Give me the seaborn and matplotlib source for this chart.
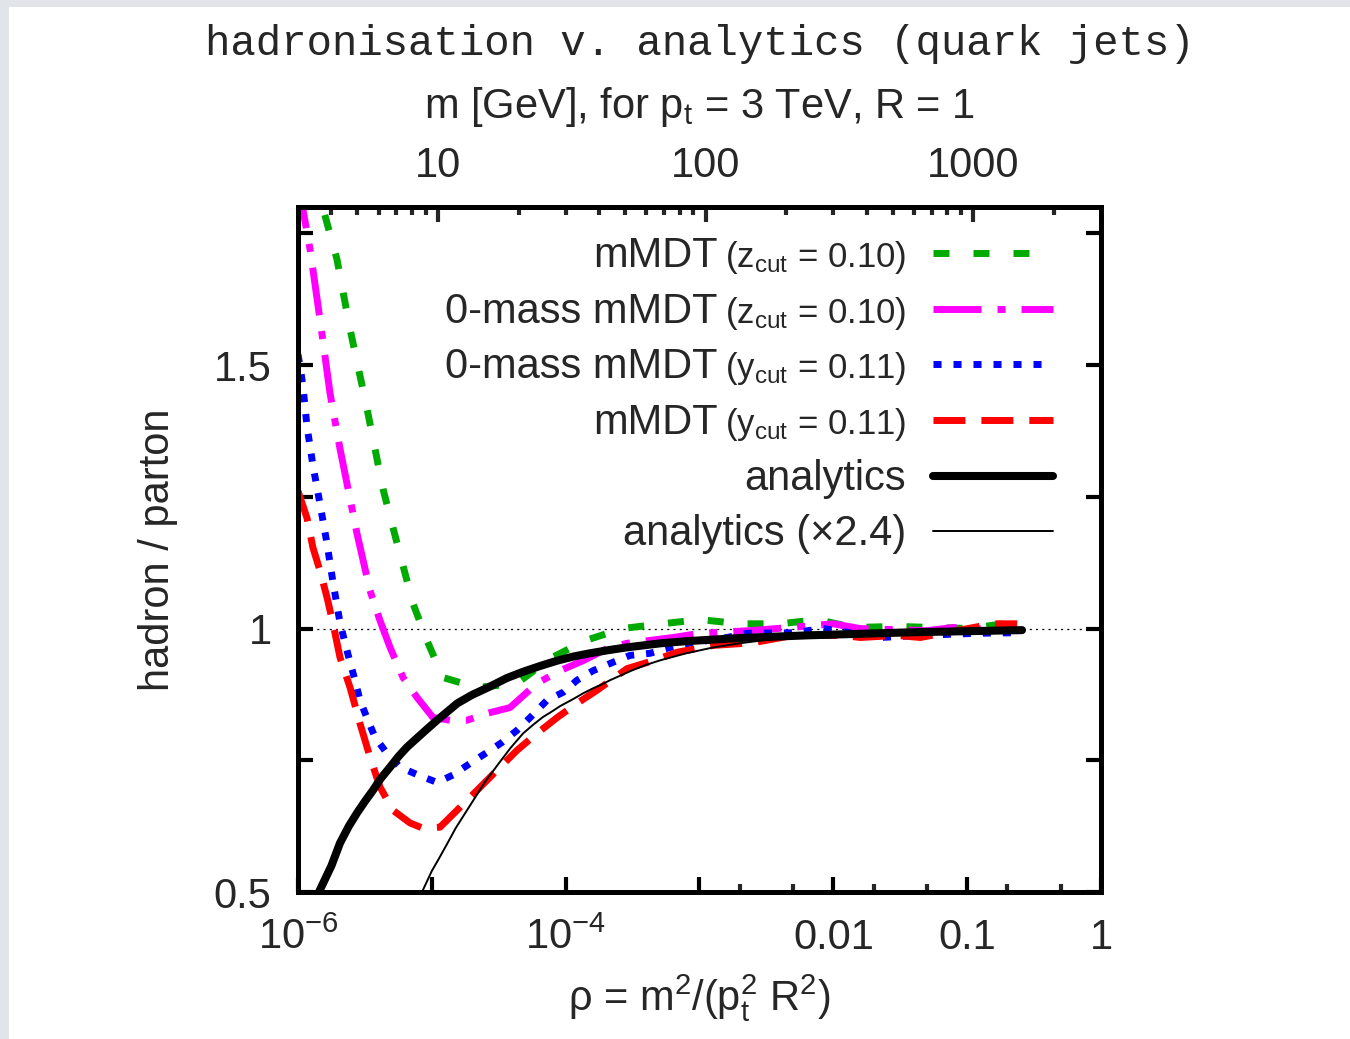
import numpy as np
import pandas as pd
import seaborn as sns
import matplotlib
matplotlib.use("Agg")
import matplotlib.pyplot as plt
from matplotlib.patches import Rectangle
from matplotlib.ticker import NullFormatter
from matplotlib.lines import Line2D

# ---------------- data (log10 rho, hadron/parton) ----------------
green_logrho = [-5.84, -5.813, -5.709, -5.611, -5.484, -5.365, -5.29, -5.14, -5.036, -4.916,
                -4.662, -4.363, -4.117, -3.855, -3.578, -3.28, -2.996, -2.697, -2.398,
                -2.114, -1.852, -1.523, -0.978, -0.679]
green_ratio = [1.86, 1.797, 1.701, 1.568, 1.417, 1.265, 1.191, 1.047, 0.977, 0.907,
               0.888, 0.896, 0.943, 0.977, 1.0, 1.009, 1.017, 1.009, 1.009,
               1.017, 1.002, 1.004, 1.0, 1.011]

magenta_logrho = [-5.99, -5.963, -5.91, -5.836, -5.761, -5.686, -5.626, -5.559, -5.462, -5.387,
                  -5.312, -5.215, -5.11, -4.991, -4.864, -4.737, -4.587, -4.416, -4.214,
                  -4.042, -3.87, -3.69, -3.541, -3.197, -2.996, -2.622, -2.323, -2.0,
                  -1.8, -1.3, -1.105, -0.626]
magenta_ratio = [1.85, 1.795, 1.72, 1.587, 1.447, 1.341, 1.265, 1.18, 1.072, 1.015,
                 0.964, 0.907, 0.869, 0.831, 0.826, 0.826, 0.839, 0.85, 0.896,
                 0.92, 0.939, 0.962, 0.972, 0.983, 0.991, 0.996, 1.002, 1.009,
                 1.0, 0.996, 1.002, 0.996]

blue_logrho = [-6.0, -5.985, -5.963, -5.933, -5.888, -5.836, -5.783, -5.738, -5.686, -5.649,
               -5.611, -5.574, -5.537, -5.484, -5.425, -5.335, -5.238, -5.103, -4.961,
               -4.842, -4.715, -4.587, -4.475, -4.363, -4.266, -4.139, -4.019, -3.915,
               -3.795, -3.646, -3.519, -3.369, -3.22, -3.07, -2.794, -2.644, -2.3,
               -2.076, -1.65, -1.351, -0.925, -0.656]
blue_ratio = [1.52, 1.498, 1.46, 1.384, 1.309, 1.237, 1.161, 1.087, 1.011, 0.973,
              0.936, 0.902, 0.864, 0.83, 0.794, 0.763, 0.737, 0.722, 0.708,
              0.722, 0.744, 0.765, 0.784, 0.807, 0.831, 0.864, 0.879, 0.902,
              0.92, 0.936, 0.949, 0.953, 0.964, 0.972, 0.983, 0.991, 0.992,
              1.0, 0.983, 0.987, 0.991, 0.992]

red_logrho = [-6.0, -5.933, -5.888, -5.836, -5.783, -5.738, -5.686, -5.611, -5.537, -5.462,
              -5.387, -5.29, -5.163, -5.066, -4.939, -4.812, -4.662, -4.513, -4.363,
              -4.214, -4.064, -3.915, -3.765, -3.541, -3.347, -3.167, -2.898, -2.6,
              -2.3, -1.927, -1.8, -1.523, -1.351, -1.18, -0.806, -0.626]
red_ratio = [1.261, 1.21, 1.153, 1.11, 1.059, 1.009, 0.945, 0.888, 0.82, 0.756,
             0.699, 0.655, 0.631, 0.621, 0.623, 0.655, 0.693, 0.731, 0.769,
             0.801, 0.831, 0.858, 0.883, 0.924, 0.939, 0.955, 0.968, 0.973,
             0.987, 0.987, 0.983, 0.987, 0.983, 0.991, 1.009, 1.009]

analytic_logrho = [-5.86, -5.836, -5.75, -5.686, -5.62, -5.559, -5.5, -5.44, -5.38, -5.312,
                   -5.25, -5.185, -5.12, -5.05, -4.961, -4.88, -4.81, -4.7, -4.565, -4.44,
                   -4.318, -4.19, -4.064, -3.94, -3.82, -3.68, -3.55, -3.42, -3.29, -3.1,
                   -2.9, -2.7, -2.5, -2.2, -1.8, -1.4, -1.0, -0.59]
analytic_ratio = [0.49, 0.504, 0.55, 0.593, 0.625, 0.65, 0.672, 0.693, 0.716, 0.737,
                  0.757, 0.775, 0.79, 0.806, 0.826, 0.843, 0.858, 0.874, 0.89, 0.906,
                  0.918, 0.929, 0.939, 0.947, 0.953, 0.959, 0.964, 0.968, 0.972, 0.976,
                  0.979, 0.982, 0.984, 0.987, 0.99, 0.993, 0.995, 0.997]

analytic24_logrho = [-5.10, -5.066, -5.0, -4.95, -4.88, -4.82, -4.75, -4.69, -4.6, -4.5,
                     -4.41, -4.318, -4.24, -4.17, -4.1, -4.04, -3.945, -3.87, -3.8, -3.73,
                     -3.668, -3.58, -3.5, -3.4, -3.29, -3.1, -2.9, -2.7, -2.547, -2.35,
                     -2.2, -1.95, -1.7, -1.5, -1.0, -0.59]
analytic24_ratio = [0.49, 0.504, 0.54, 0.562, 0.594, 0.622, 0.65, 0.674, 0.71, 0.744,
                    0.774, 0.801, 0.818, 0.832, 0.843, 0.853, 0.866, 0.877, 0.886, 0.894,
                    0.902, 0.912, 0.921, 0.931, 0.94, 0.953, 0.964, 0.972, 0.977, 0.982,
                    0.985, 0.988, 0.991, 0.992, 0.995, 0.997]

series_names = ["mMDT", "0-mass mMDT", "0-mass mMDT", "mMDT", "analytics", "analytics (\u00d72.4)"]
series_params = ["(z$_\\mathregular{cut}$ = 0.10)", "(z$_\\mathregular{cut}$ = 0.10)",
                 "(y$_\\mathregular{cut}$ = 0.11)", "(y$_\\mathregular{cut}$ = 0.11)", "", ""]

x_ticks = [1e-6, 1e-5, 1e-4, 1e-3, 1e-2, 1e-1, 1]
x_ticklabels = ["10$^\\mathregular{-6}$", "", "10$^\\mathregular{-4}$", "", "0.01", "0.1", "1"]
x_minor = [2e-3, 5e-3, 2e-2, 5e-2, 0.2, 0.5]
y_ticks = [0.5, 0.75, 1.0, 1.25, 1.5, 1.75]
y_ticklabels = ["0.5", "", "1", "", "1.5", ""]
m_ticks = [10, 100, 1000]
m_ticklabels = ["10", "100", "1000"]
m_minor = [4, 5, 6, 7, 8, 9, 20, 30, 40, 50, 60, 70, 80, 90,
           200, 300, 400, 500, 600, 700, 800, 900, 2000]

# ---------------- style ----------------
sns.set_style("ticks")
plt.rcParams["font.family"] = ["Liberation Sans", "DejaVu Sans"]
plt.rcParams["mathtext.fontset"] = "custom"
plt.rcParams["mathtext.rm"] = "Liberation Sans"
plt.rcParams["mathtext.it"] = "Liberation Sans"
plt.rcParams["mathtext.bf"] = "Liberation Sans:bold"
plt.rcParams["lines.scale_dashes"] = False
plt.rcParams["lines.dash_capstyle"] = "butt"

styles = [
    dict(color="#00aa00", linewidth=5.0, linestyle=(0, (11.5, 17.3))),
    dict(color="#ff00ff", linewidth=5.0, linestyle=(0, (34.6, 11.5, 5.8, 11.5))),
    dict(color="#0000ff", linewidth=5.0, linestyle=(0, (5.8, 8.6))),
    dict(color="#ff0000", linewidth=5.0, linestyle=(0, (23.0, 11.5))),
    dict(color="black", linewidth=5.8, linestyle="-"),
    dict(color="black", linewidth=1.4, linestyle="-"),
]
data_sets = [(green_logrho, green_ratio), (magenta_logrho, magenta_ratio),
             (blue_logrho, blue_ratio), (red_logrho, red_ratio),
             (analytic_logrho, analytic_ratio), (analytic24_logrho, analytic24_ratio)]

fig = plt.figure(figsize=(13.5, 10.39), dpi=100, facecolor="#e1e4e9")
fig.patches.append(Rectangle((9 / 1350, 0), 1, 1 - 7 / 1039, transform=fig.transFigure,
                             facecolor="white", edgecolor="none", zorder=-10))
ax = fig.add_axes([0.22074, 0.14148, 0.59481, 0.65929])
ax.set_facecolor("white")

ax.axhline(1.0, color="black", linewidth=0.9, linestyle=(0, (1.5, 3.0)), zorder=1)

for (lr, r), st in zip(data_sets, styles):
    df = pd.DataFrame({"rho": 10 ** np.array(lr), "ratio": r})
    sns.lineplot(data=df, x="rho", y="ratio", ax=ax, estimator=None, sort=False, **st)

ax.set_xscale("log")
ax.set_xlim(1e-6, 1)
ax.set_ylim(0.5, 1.8)

ax.set_xticks(x_ticks, labels=x_ticklabels)
ax.set_xticks(x_minor, minor=True)
ax.xaxis.set_minor_formatter(NullFormatter())
ax.set_yticks(y_ticks, labels=y_ticklabels)
ax.tick_params(axis="both", which="major", direction="in", length=11, width=3,
               labelsize=30, color="black")
ax.tick_params(axis="both", which="minor", direction="in", length=6, width=3)
ax.tick_params(axis="y", right=True, pad=19)
ax.tick_params(axis="x", top=False, pad=41)
for t in ax.get_xticklabels():
    t.set_verticalalignment("baseline")

ax.set_xlabel("\u03c1 = m$^\\mathregular{2}$/(p$_\\mathregular{t}^\\mathregular{2}$ R$^\\mathregular{2}$)",
              fontsize=30, labelpad=10)
ax.set_ylabel("hadron / parton", fontsize=30, labelpad=26)

ax2 = ax.twiny()
ax2.set_xscale("log")
ax2.set_xlim(3, 3000)
ax2.set_xticks(m_ticks, labels=m_ticklabels)
ax2.set_xticks(m_minor, minor=True)
ax2.xaxis.set_minor_formatter(NullFormatter())
ax2.tick_params(axis="x", which="major", direction="in", length=11, width=3,
                labelsize=30, pad=15)
ax2.tick_params(axis="x", which="minor", direction="in", length=6, width=3)
ax2.set_xlabel("m [GeV], for p$_\\mathregular{t}$ = 3 TeV, R = 1", fontsize=30, labelpad=20)

for a in (ax, ax2):
    for s in a.spines.values():
        s.set_linewidth(3.5)
        s.set_color("black")
        s.set_visible(True)

fig.text(0.5181, 0.9576, "hadronisation v. analytics (quark jets)", family="Liberation Mono",
         fontsize=30.5, ha="center", va="center")

# ---------------- legend (gnuplot style: text right-aligned, key on right) ----------------
fig.canvas.draw()
renderer = fig.canvas.get_renderer()
ax_w = ax.get_window_extent(renderer).width
ax_h = ax.get_window_extent(renderer).height
key_x0, key_x1 = 0.7908, 0.9402
row_y0, row_dy = 0.9328, 0.0812
text_right = key_x0 - 27 / ax_w
base_off = 14 / ax_h
for i, (nm, par, st) in enumerate(zip(series_names, series_params, styles)):
    yl = row_y0 - i * row_dy
    ax.add_line(Line2D([key_x0, key_x1], [yl, yl], transform=ax.transAxes, clip_on=False, **st))
    xr = text_right
    if par:
        tp = ax.text(xr, yl - base_off, par, transform=ax.transAxes, ha="right",
                     va="baseline", fontsize=25)
        w = tp.get_window_extent(renderer).width / ax_w
        xr = xr - w - 7 / ax_w
    ax.text(xr, yl - base_off, nm, transform=ax.transAxes, ha="right", va="baseline", fontsize=30)

fig.savefig("out.png", dpi=100, facecolor=fig.get_facecolor())
